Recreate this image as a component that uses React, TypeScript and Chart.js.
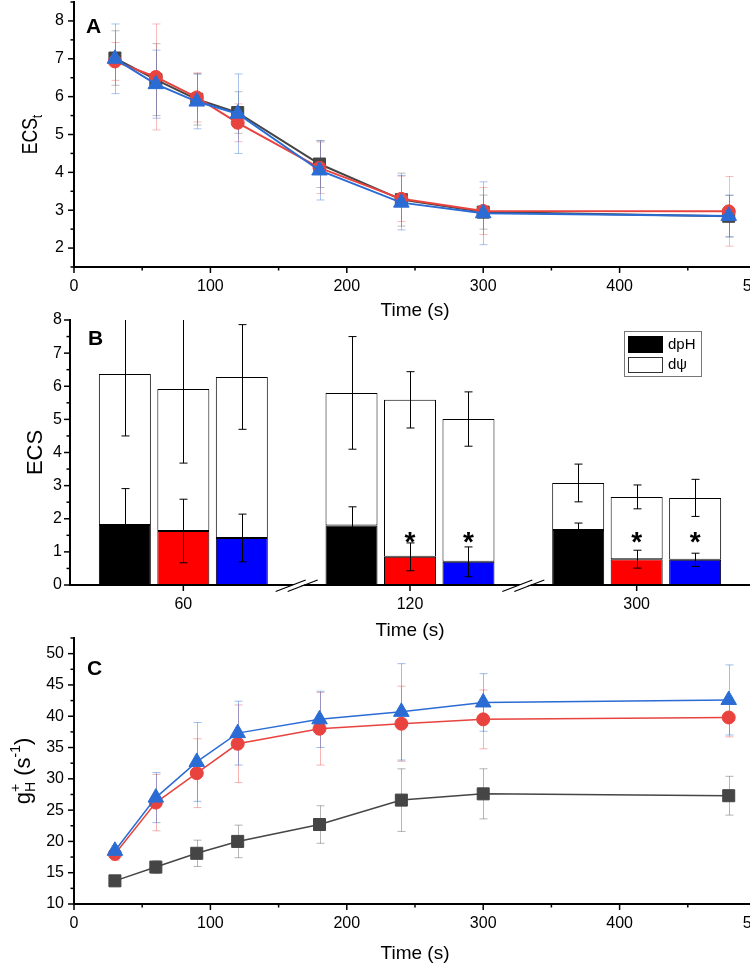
import React, { useEffect, useRef } from 'react';
import { Chart, registerables } from 'chart.js';
Chart.register(...registerables);

const FONT = "'Liberation Sans', Arial, Helvetica, sans-serif";

// ---------- Panel A: ECS_t vs time ----------
const timeSec = [30, 60, 90, 120, 180, 240, 300, 480];
const ecsTCtrl = [7.02, 6.45, 5.93, 5.58, 4.22, 3.28, 2.95, 2.84];
const ecsTCtrlErr = [0.72, 0.95, 0.68, 0.55, 0.62, 0.7, 0.45, 0.55];
const ecsTRed = [6.93, 6.52, 5.98, 5.31, 4.12, 3.3, 2.98, 2.97];
const ecsTRedErr = [0.5, 1.4, 0.65, 0.5, 0.68, 0.6, 0.62, 0.92];
const ecsTBlue = [7.0, 6.33, 5.87, 5.55, 4.05, 3.2, 2.92, 2.85];
const ecsTBlueErr = [0.92, 0.9, 0.72, 1.05, 0.78, 0.72, 0.83, 0.55];

// ---------- Panel B: ECS partitioning ----------
const barTimes = ['60', '120', '300'];
const totalCtrl = [6.37, 5.8, 3.08];
const totalCtrlErr = [1.87, 1.7, 0.57];
const totalRed = [5.92, 5.59, 2.66];
const totalRedErr = [2.24, 0.85, 0.36];
const totalBlue = [6.28, 5.01, 2.63];
const totalBlueErr = [1.58, 0.82, 0.56];
const dpHCtrl = [1.81, 1.8, 1.66];
const dpHCtrlErr = [1.1, 0.56, 0.21];
const dpHRed = [1.63, 0.85, 0.78];
const dpHRedErr = [0.96, 0.42, 0.27];
const dpHBlue = [1.42, 0.7, 0.76];
const dpHBlueErr = [0.72, 0.45, 0.2];
const sigCtrl = [false, false, false];
const sigRed = [false, true, true];
const sigBlue = [false, true, true];
const sigMarkLevel = 1.5;

// ---------- Panel C: gH+ vs time ----------
const gHCtrl = [13.7, 15.9, 18.1, 20.0, 22.7, 26.6, 27.6, 27.3];
const gHCtrlErr = [0.8, 1.0, 2.1, 2.6, 3.0, 5.0, 4.0, 3.1];
const gHRed = [18.0, 26.2, 30.9, 35.6, 38.0, 38.8, 39.5, 39.8];
const gHRedErr = [1.0, 4.5, 5.5, 6.2, 5.8, 6.0, 4.7, 3.1];
const gHBlue = [18.5, 27.0, 32.7, 37.3, 39.5, 40.7, 42.2, 42.6];
const gHBlueErr = [0.8, 4.0, 6.3, 5.1, 4.5, 7.7, 4.6, 5.6];

const C_CTRL = '#454545';
const C_RED = '#e8433f';
const C_BLUE = '#2b6cd4';

Chart.defaults.font.family = FONT;
Chart.defaults.color = '#000';

// ---------- plugins ----------
function drawErr(chart: any) {
  const ctx = chart.ctx;
  const ca = chart.chartArea;
  const ys = chart.scales.y;
  ctx.save();
  ctx.beginPath();
  ctx.rect(ca.left, ca.top, ca.right - ca.left, ca.bottom - ca.top);
  ctx.clip();
  chart.data.datasets.forEach((ds: any, di: number) => {
    if (!ds.errors) return;
    const meta = chart.getDatasetMeta(di);
    ctx.strokeStyle = ds.errColor;
    ctx.lineWidth = ds.errWidth || 1;
    meta.data.forEach((el: any, i: number) => {
      const x = Math.round(el.x) + 0.5;
      const c = ds.errBase[i];
      const e = ds.errors[i];
      const yt = ys.getPixelForValue(c + e);
      const yb = ys.getPixelForValue(c - e);
      const h = ds.capHalf ?? 4;
      ctx.beginPath();
      ctx.moveTo(x, yt);
      ctx.lineTo(x, yb);
      ctx.moveTo(x - h, yt);
      ctx.lineTo(x + h, yt);
      ctx.moveTo(x - h, yb);
      ctx.lineTo(x + h, yb);
      ctx.stroke();
    });
  });
  ctx.restore();
}

const errorBehind = { id: 'errorBehind', beforeDatasetsDraw(chart: any) { drawErr(chart); } };
const errorFront = { id: 'errorFront', afterDatasetsDraw(chart: any) { drawErr(chart); } };

const tickMarks = {
  id: 'tickMarks',
  afterDraw(chart: any) {
    const ctx = chart.ctx;
    ctx.save();
    ctx.strokeStyle = '#000';
    ctx.lineWidth = 1.5;
    Object.keys(chart.scales).forEach((id) => {
      const s = chart.scales[id];
      s.ticks.forEach((t: any, i: number) => {
        const major = t.label !== '' && t.label != null;
        const len = major ? 6 : 3.5;
        const p = s.getPixelForTick(i);
        ctx.beginPath();
        if (s.isHorizontal()) {
          ctx.moveTo(p, s.top);
          ctx.lineTo(p, s.top + len);
        } else {
          ctx.moveTo(s.right, p);
          ctx.lineTo(s.right - len, p);
        }
        ctx.stroke();
      });
    });
    ctx.restore();
  },
};

type Seg = { t: string; size: number; dy?: number; stack?: boolean };
function makeTitles(letter: string, lx: number, ly: number, segs: Seg[], baseX: number, sx: number) {
  return {
    id: 'titles',
    afterDraw(chart: any) {
      const ctx = chart.ctx;
      const ca = chart.chartArea;
      ctx.save();
      ctx.fillStyle = '#000';
      ctx.textBaseline = 'alphabetic';
      ctx.font = `bold 21px ${FONT}`;
      ctx.textAlign = 'left';
      ctx.fillText(letter, lx, ly);
      // vertical rich title
      const cy = (ca.top + ca.bottom) / 2;
      ctx.translate(baseX, cy);
      ctx.rotate(-Math.PI / 2);
      ctx.scale(sx, 1);
      const widths = segs.map((s) => {
        ctx.font = `${s.size}px ${FONT}`;
        return ctx.measureText(s.t).width;
      });
      const xs: number[] = [];
      let cur = 0;
      let prevStart = 0;
      segs.forEach((s, i) => {
        if (s.stack) {
          xs.push(prevStart);
          cur = Math.max(cur, prevStart + widths[i]);
        } else {
          xs.push(cur);
          prevStart = cur;
          cur += widths[i];
        }
      });
      const total = cur;
      segs.forEach((s, i) => {
        ctx.font = `${s.size}px ${FONT}`;
        ctx.fillText(s.t, xs[i] - total / 2, s.dy || 0);
      });
      ctx.restore();
    },
  };
}

const barExtras = {
  id: 'barExtras',
  afterDraw(chart: any) {
    const ctx = chart.ctx;
    const xs = chart.scales.x;
    const ys = chart.scales.y;
    ctx.save();
    // significance asterisks
    ctx.fillStyle = '#000';
    ctx.font = `bold 28px ${FONT}`;
    ctx.textAlign = 'center';
    ctx.textBaseline = 'alphabetic';
    chart.data.datasets.forEach((ds: any, di: number) => {
      if (!ds.sig) return;
      const meta = chart.getDatasetMeta(di);
      ds.sig.forEach((s: boolean, i: number) => {
        if (!s) return;
        ctx.fillText('*', meta.data[i].x, ys.getPixelForValue(sigMarkLevel) + 15.5);
      });
    });
    // axis breaks
    const y = xs.top;
    for (let i = 0; i < barTimes.length - 1; i++) {
      const cx = (xs.getPixelForValue(i) + xs.getPixelForValue(i + 1)) / 2;
      ctx.fillStyle = '#fff';
      ctx.beginPath();
      ctx.moveTo(cx - 19, y + 6);
      ctx.lineTo(cx + 9, y - 5);
      ctx.lineTo(cx + 19, y - 5);
      ctx.lineTo(cx - 9, y + 6);
      ctx.closePath();
      ctx.fill();
      ctx.strokeStyle = '#000';
      ctx.lineWidth = 1.2;
      ctx.beginPath();
      ctx.moveTo(cx - 21, y + 6.5);
      ctx.lineTo(cx + 9, y - 5);
      ctx.moveTo(cx - 9, y + 6.5);
      ctx.lineTo(cx + 21, y - 5);
      ctx.stroke();
    }
    // legend
    ctx.strokeStyle = '#777';
    ctx.lineWidth = 1;
    ctx.strokeRect(624.5, 26.5, 77, 45);
    ctx.fillStyle = '#000';
    ctx.fillRect(628, 31, 35, 17);
    ctx.strokeStyle = '#000';
    ctx.strokeRect(628.5, 31.5, 34, 16);
    ctx.fillStyle = '#fff';
    ctx.fillRect(628, 52, 35, 16);
    ctx.strokeStyle = '#333';
    ctx.strokeRect(628.5, 52.5, 34, 15);
    ctx.fillStyle = '#000';
    ctx.font = `15px ${FONT}`;
    ctx.textAlign = 'left';
    ctx.textBaseline = 'middle';
    ctx.fillText('dpH', 668, 40);
    ctx.fillText('dψ', 668, 60);
    ctx.restore();
  },
};

// ---------- chart builders ----------
function xTimeScale(height: number, titlePad: number) {
  return {
    type: 'linear',
    min: 0,
    max: 500,
    afterFit: (s: any) => {
      s.height = height;
      s.paddingLeft = 0;
      s.paddingRight = 0;
    },
    ticks: {
      stepSize: 50,
      autoSkip: false,
      maxRotation: 0,
      padding: 10,
      font: { size: 16 },
      color: '#000',
      callback: (v: any) => (Math.abs(v % 100) < 1e-9 ? String(v) : ''),
    },
    grid: { display: false, drawTicks: false },
    border: { display: true, color: '#000', width: 2 },
    title: { display: true, text: 'Time (s)', font: { size: 19 }, color: '#000', padding: { top: 0, bottom: titlePad } },
  };
}

function yScale(min: number, max: number, step: number, major: number, width: number, pad: number) {
  return {
    type: 'linear',
    min,
    max,
    afterFit: (s: any) => {
      s.width = width;
      s.paddingTop = 0;
      s.paddingBottom = 0;
    },
    ticks: {
      stepSize: step,
      autoSkip: false,
      padding: pad,
      font: { size: 16 },
      color: '#000',
      callback: (v: any) => {
        const r = v / major;
        return Math.abs(r - Math.round(r)) < 1e-6 ? String(Math.round(v * 10) / 10) : '';
      },
    },
    grid: { display: false, drawTicks: false },
    border: { display: true, color: '#000', width: 2 },
  };
}

function lineDataset(label: string, values: number[], errs: number[], color: string, errColor: string, style: string, radius: number, order: number, lw: number) {
  return {
    label,
    data: timeSec.map((t, i) => ({ x: t, y: values[i] })),
    borderColor: color,
    backgroundColor: color,
    borderWidth: lw,
    pointStyle: style,
    pointRadius: radius,
    pointBackgroundColor: color,
    pointBorderColor: color,
    pointBorderWidth: 1,
    order,
    errBase: values,
    errors: errs,
    errColor,
    capHalf: 4,
  };
}

function makeA(canvas: HTMLCanvasElement) {
  return new Chart(canvas as any, {
    type: 'line',
    data: {
      datasets: [
        lineDataset('Control', ecsTCtrl, ecsTCtrlErr, C_CTRL, 'rgba(70,70,70,0.35)', 'rect', 8.5, 3, 2),
        lineDataset('Red', ecsTRed, ecsTRedErr, C_RED, 'rgba(232,67,63,0.35)', 'circle', 6.5, 2, 2),
        lineDataset('Blue', ecsTBlue, ecsTBlueErr, C_BLUE, 'rgba(43,108,212,0.4)', 'triangle', 9, 1, 2),
      ] as any,
    },
    options: {
      responsive: false,
      animation: false,
      events: [],
      layout: { autoPadding: false, padding: { top: 2, right: 34, bottom: 0, left: 0 } },
      plugins: { legend: { display: false }, tooltip: { enabled: false } },
      scales: {
        x: xTimeScale(63, 7.6) as any,
        y: yScale(1.5, 8.5, 0.5, 1, 74, 10) as any,
      },
    } as any,
    plugins: [errorBehind, tickMarks, makeTitles('A', 86, 33, [{ t: 'ECS', size: 22 }, { t: 't', size: 14, dy: 5 }], 37, 0.8)],
  });
}

function makeC(canvas: HTMLCanvasElement) {
  return new Chart(canvas as any, {
    type: 'line',
    data: {
      datasets: [
        lineDataset('Control', gHCtrl, gHCtrlErr, C_CTRL, 'rgba(70,70,70,0.4)', 'rect', 8.5, 3, 1.5),
        lineDataset('Red', gHRed, gHRedErr, C_RED, 'rgba(232,67,63,0.4)', 'circle', 6.5, 2, 1.5),
        lineDataset('Blue', gHBlue, gHBlueErr, C_BLUE, 'rgba(43,108,212,0.45)', 'triangle', 9, 1, 1.5),
      ] as any,
    },
    options: {
      responsive: false,
      animation: false,
      events: [],
      layout: { autoPadding: false, padding: { top: 18, right: 34, bottom: 0, left: 0 } },
      plugins: { legend: { display: false }, tooltip: { enabled: false } },
      scales: {
        x: xTimeScale(65, 3.6) as any,
        y: yScale(10, 52.5, 2.5, 5, 74, 10) as any,
      },
    } as any,
    plugins: [
      errorBehind,
      tickMarks,
      makeTitles(
        'C',
        87,
        55,
        [
          { t: 'g', size: 22 },
          { t: 'H', size: 14, dy: 5 },
          { t: '+', size: 14, dy: -10, stack: true },
          { t: ' (s', size: 22 },
          { t: '-1', size: 14, dy: -10 },
          { t: ')', size: 22 },
        ],
        30,
        1
      ),
    ],
  });
}

function makeB(canvas: HTMLCanvasElement) {
  const groups = [
    { key: 'ctrl', color: '#000', total: totalCtrl, totalErr: totalCtrlErr, dph: dpHCtrl, dphErr: dpHCtrlErr, sig: sigCtrl },
    { key: 'red', color: '#ff0000', total: totalRed, totalErr: totalRedErr, dph: dpHRed, dphErr: dpHRedErr, sig: sigRed },
    { key: 'blue', color: '#0000ff', total: totalBlue, totalErr: totalBlueErr, dph: dpHBlue, dphErr: dpHBlueErr, sig: sigBlue },
  ];
  const common = {
    borderColor: '#000',
    borderWidth: 1,
    borderSkipped: false,
    categoryPercentage: 0.774,
    barPercentage: 0.889,
    errColor: '#000',
    errWidth: 1,
    capHalf: 4,
  };
  const datasets = groups.flatMap((g) => [
    { ...common, label: 'dpH', data: g.dph, stack: g.key, backgroundColor: g.color, errBase: g.dph, errors: g.dphErr },
    {
      ...common,
      label: 'dψ',
      data: g.total.map((v, i) => v - g.dph[i]),
      stack: g.key,
      backgroundColor: '#fff',
      errBase: g.total,
      errors: g.totalErr,
      sig: g.sig,
    },
  ]);
  return new Chart(canvas as any, {
    type: 'bar',
    data: { labels: barTimes, datasets: datasets as any },
    options: {
      responsive: false,
      animation: false,
      events: [],
      layout: { autoPadding: false, padding: { top: 15, right: 0, bottom: 0, left: 0 } },
      plugins: { legend: { display: false }, tooltip: { enabled: false } },
      scales: {
        x: {
          type: 'category',
          stacked: true,
          afterFit: (s: any) => {
            s.height = 60;
            s.paddingLeft = 0;
            s.paddingRight = 0;
          },
          ticks: { autoSkip: false, maxRotation: 0, padding: 10, font: { size: 16 }, color: '#000' },
          grid: { display: false, drawTicks: false },
          border: { display: true, color: '#000', width: 2 },
          title: { display: true, text: 'Time (s)', font: { size: 19 }, color: '#000', padding: { top: 0, bottom: 2.6 } },
        } as any,
        y: { ...(yScale(0, 8, 0.5, 1, 70, 8) as any), stacked: true },
      },
    } as any,
    plugins: [errorFront, tickMarks, barExtras, makeTitles('B', 88, 40, [{ t: 'ECS', size: 22 }], 42, 1)],
  });
}

export default function App() {
  const refA = useRef<HTMLCanvasElement>(null);
  const refB = useRef<HTMLCanvasElement>(null);
  const refC = useRef<HTMLCanvasElement>(null);
  useEffect(() => {
    const charts = [makeA(refA.current!), makeB(refB.current!), makeC(refC.current!)];
    return () => charts.forEach((c) => c.destroy());
  }, []);
  return (
    <div style={{ position: 'absolute', left: 0, top: 0, width: 750, height: 969, overflow: 'hidden', background: '#fff' }}>
      <canvas ref={refA} width={790} height={330} style={{ position: 'absolute', left: 0, top: 0 }} />
      <canvas ref={refB} width={750} height={340} style={{ position: 'absolute', left: 0, top: 305 }} />
      <canvas ref={refC} width={790} height={349} style={{ position: 'absolute', left: 0, top: 620 }} />
    </div>
  );
}
